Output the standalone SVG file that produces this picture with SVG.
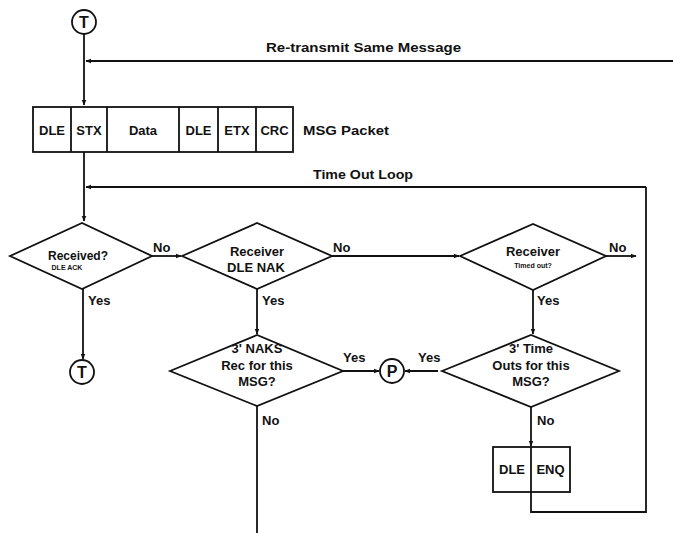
<svg xmlns="http://www.w3.org/2000/svg" width="673" height="533" viewBox="0 0 673 533">
<defs>
<marker id="arr" viewBox="0 0 10 10" refX="9" refY="5" markerWidth="6" markerHeight="6" orient="auto" markerUnits="userSpaceOnUse">
<path d="M0,1 L10,5 L0,9 Z" fill="#111"/>
</marker>
</defs>
<style>
.ln{fill:none;stroke:#111;stroke-width:1.8}
.sh{fill:#fff;stroke:#111;stroke-width:1.8}
.t{font-family:"Liberation Sans Narrow","Liberation Sans",Arial,sans-serif;font-size:13px;fill:#111;font-weight:bold}
.c{font-family:"Liberation Sans",Arial,sans-serif;font-size:16px;fill:#111;font-weight:bold;text-anchor:middle}
.m{text-anchor:middle}
.s{font-family:"Liberation Sans Narrow","Liberation Sans",Arial,sans-serif;font-size:7px;fill:#111;font-weight:bold;text-anchor:middle}
</style>
<rect width="673" height="533" fill="#fff"/>
<g id="connectors">
<path class="ln" d="M84,34 V105" marker-end="url(#arr)"/>
<path class="ln" d="M673,61 H86" marker-end="url(#arr)"/>
<path class="ln" d="M84,152 V221" marker-end="url(#arr)"/>
<path class="ln" d="M646,187 H86" marker-end="url(#arr)"/>
<path class="ln" d="M531,492 V512 H646 V187"/>
<path class="ln" d="M152,256 H181" marker-end="url(#arr)"/>
<path class="ln" d="M332,256 H459" marker-end="url(#arr)"/>
<path class="ln" d="M606,256 H636" marker-end="url(#arr)"/>
<path class="ln" d="M83,289 V359" marker-end="url(#arr)"/>
<path class="ln" d="M257,289 V334" marker-end="url(#arr)"/>
<path class="ln" d="M533,290 V334" marker-end="url(#arr)"/>
<path class="ln" d="M343,371 H379" marker-end="url(#arr)"/>
<path class="ln" d="M438,371 H405" marker-end="url(#arr)"/>
<path class="ln" d="M257,406 V533"/>
<path class="ln" d="M531,407 V446" marker-end="url(#arr)"/>
<text class="t" x="266" y="52" textLength="195" lengthAdjust="spacingAndGlyphs">Re-transmit Same Message</text>
<text class="t" x="313" y="179" textLength="100" lengthAdjust="spacingAndGlyphs">Time Out Loop</text>
<text class="t" x="153" y="252">No</text>
<text class="t" x="333" y="252">No</text>
<text class="t" x="609" y="252">No</text>
<text class="t" x="88" y="305">Yes</text>
<text class="t" x="262" y="305">Yes</text>
<text class="t" x="537" y="305">Yes</text>
<text class="t" x="343" y="362">Yes</text>
<text class="t" x="418" y="362">Yes</text>
<text class="t" x="262" y="425">No</text>
<text class="t" x="537" y="425">No</text>
</g>
<g id="start-T">
<circle class="sh" cx="84" cy="22" r="12"/>
<text class="c" x="84" y="28">T</text>
</g>
<g id="packet">
<rect class="sh" x="33" y="107" width="260" height="45"/>
<path class="ln" d="M71,107 V152 M107,107 V152 M179,107 V152 M218,107 V152 M256,107 V152"/>
<text class="t m" x="52" y="135">DLE</text>
<text class="t m" x="89" y="135">STX</text>
<text class="t m" x="143" y="135">Data</text>
<text class="t m" x="198.5" y="135">DLE</text>
<text class="t m" x="237" y="135">ETX</text>
<text class="t m" x="274.5" y="135">CRC</text>
<text class="t" x="303" y="135" textLength="86" lengthAdjust="spacingAndGlyphs">MSG Packet</text>
</g>
<g id="received">
<path class="sh" d="M10,256 L82,223 L152,256 L82,289 Z"/>
<text class="t m" x="78" y="260" textLength="60" lengthAdjust="spacingAndGlyphs">Received?</text>
<text class="s" x="67" y="270">DLE ACK</text>
</g>
<g id="receiver-nak">
<path class="sh" d="M182,256 L257,223 L332,256 L257,289 Z"/>
<text class="t m" x="257" y="256">Receiver</text>
<text class="t m" x="256" y="272">DLE NAK</text>
</g>
<g id="receiver-timeout">
<path class="sh" d="M460,256 L533,224 L606,256 L533,290 Z"/>
<text class="t m" x="533" y="256">Receiver</text>
<text class="s" x="533" y="268">Timed out?</text>
</g>
<g id="end-T">
<circle class="sh" cx="82" cy="372" r="12"/>
<text class="c" x="82" y="378">T</text>
</g>
<g id="three-naks">
<path class="sh" d="M170,371 L257,335 L343,371 L257,406 Z"/>
<text class="t m" x="257" y="353">3' NAKS</text>
<text class="t m" x="257" y="370">Rec for this</text>
<text class="t m" x="257" y="386">MSG?</text>
</g>
<g id="P">
<circle class="sh" cx="392" cy="371" r="12"/>
<text class="c" x="392" y="377">P</text>
</g>
<g id="three-timeouts">
<path class="sh" d="M442,371 L531,335 L619,371 L531,407 Z"/>
<text class="t m" x="531" y="353">3' Time</text>
<text class="t m" x="531" y="370">Outs for this</text>
<text class="t m" x="531" y="386">MSG?</text>
</g>
<g id="dle-enq">
<rect class="sh" x="493" y="447" width="77" height="45"/>
<path class="ln" d="M531,447 V492"/>
<text class="t m" x="512" y="474">DLE</text>
<text class="t m" x="550.5" y="474">ENQ</text>
</g>
</svg>
